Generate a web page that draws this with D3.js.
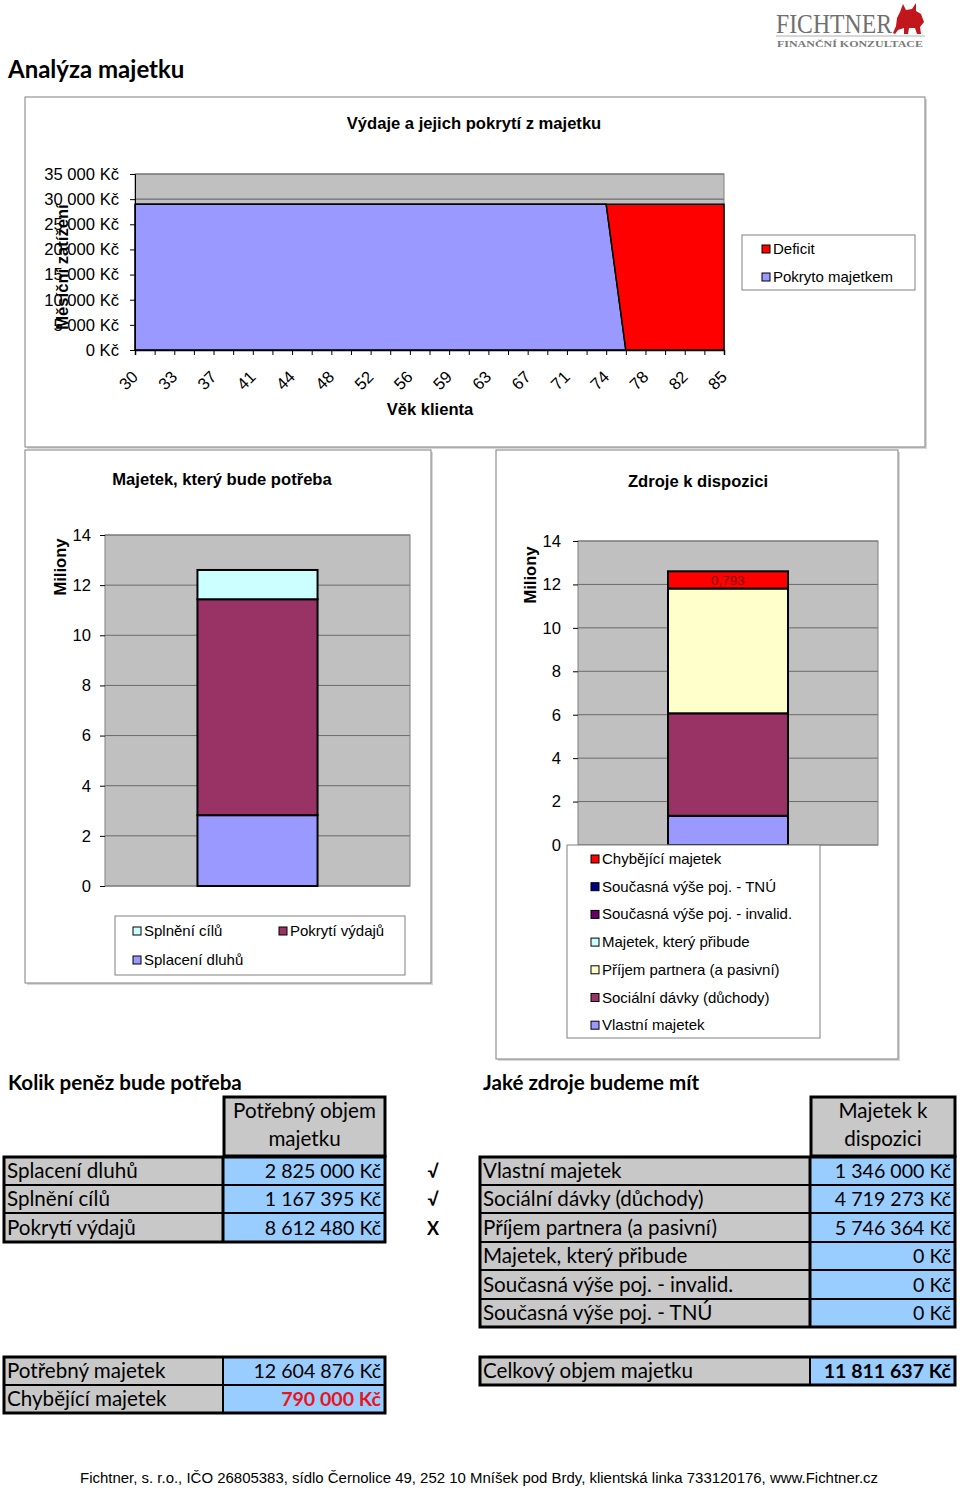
<!DOCTYPE html>
<html><head><meta charset="utf-8">
<script src="https://cdn.jsdelivr.net/npm/d3@7"></script>
<style>
body{margin:0;background:#fff}
svg{display:block}
</style></head>
<body>
<svg id="svg" width="960" height="1489"></svg>
<script>
// ---------------- DATA ----------------
const ageTickLabels = [30,33,37,41,44,48,52,56,59,63,67,71,74,78,82,85];
const coveredByAsset = [29000,29000,29000,29000,29000,29000,29000,29000,29000,29000,29000,29000,29000,29000,29000,29000,29000,29000,29000,29000,29000,29000,29000,29000,29000,0,0,0,0,0,0];
const deficitSeries  = [0,0,0,0,0,0,0,0,0,0,0,0,0,0,0,0,0,0,0,0,0,0,0,0,0,29000,29000,29000,29000,29000,29000];
const topYTicks = [0,5000,10000,15000,20000,25000,30000,35000];

const needKeys   = ['Splacení dluhů','Pokrytí výdajů','Splnění cílů'];   // bottom -> top
const needMil    = [2.825, 8.61248, 1.167395];
const needColors = ['#9999FF','#993366','#CCFFFF'];

const resKeys   = ['Vlastní majetek','Sociální dávky (důchody)','Příjem partnera (a pasivní)','Majetek, který přibude','Současná výše poj. - invalid.','Současná výše poj. - TNÚ','Chybějící majetek'];
const resMil    = [1.346, 4.719273, 5.746364, 0, 0, 0, 0.793];
const resColors = ['#9999FF','#993366','#FFFFCC','#CCFFFF','#660066','#000080','#FF0000'];
const milTicks  = [0,2,4,6,8,10,12,14];

const needTableLabels = ['Splacení dluhů','Splnění cílů','Pokrytí výdajů'];
const needTableValues = [2825000,1167395,8612480];
const needTableMarks  = ['√','√','X'];
const resTableLabels  = ['Vlastní majetek','Sociální dávky (důchody)','Příjem partnera (a pasivní)','Majetek, který přibude','Současná výše poj. - invalid.','Současná výše poj. - TNÚ'];
const resTableValues  = [1346000,4719273,5746364,0,0,0];
const summaryNeedLabels = ['Potřebný majetek','Chybějící majetek'];
const summaryNeedValues = [12604876, 790000];
const summaryTotalLabel = 'Celkový objem majetku';
const summaryTotalValue = 11811637;

// ---------------- HELPERS ----------------
const svg = d3.select('#svg');
svg.append('rect').attr('width',960).attr('height',1489).attr('fill','#fff');
const AR = 'Liberation Sans, Arial, sans-serif';
const CAL = 'Lato, Open Sans, sans-serif';
const FS = 16.6;   // chart titles / axis text
const LFS = 15;    // legend text
const loc = d3.formatLocale({decimal:',', thousands:'\u00a0', grouping:[3], currency:['','\u00a0Kč']});
const kc = loc.format('$,.0f');
const kcSp = v => kc(v).replace(/\u00a0/g,' ');

function box(x0,y0,x1,y1){
  svg.append('rect').attr('x',x0+2).attr('y',y0+2).attr('width',x1-x0).attr('height',y1-y0).attr('fill','#d8d8d8');
  svg.append('rect').attr('x',x0).attr('y',y0).attr('width',x1-x0).attr('height',y1-y0).attr('fill','#fff').attr('stroke','#7f7f7f').attr('stroke-width',1);
}
function text(x,y,s,opt={}){
  return svg.append('text').attr('x',x).attr('y',y).text(s)
    .attr('font-family',opt.ff||AR).attr('font-size',opt.fs||FS).attr('font-weight',opt.fw||'normal')
    .attr('text-anchor',opt.anchor||'start').attr('fill',opt.fill||'#000');
}
function styleAxis(g){
  g.selectAll('text').attr('font-family',AR).attr('font-size',FS).attr('fill','#000');
  g.selectAll('line').attr('stroke','#000');
  g.select('.domain').attr('stroke','#000');
}

// ---------------- HEADER / LOGO ----------------
text(8,78,'Analýza majetku',{ff:CAL,fs:24,fw:'bold'});
const logo = svg.append('g');
logo.append('text').attr('x',776).attr('y',33).text('FICHTNER').attr('font-family','Liberation Serif, serif')
  .attr('font-size',27).attr('fill','#6f6f6f').attr('textLength',116).attr('lengthAdjust','spacingAndGlyphs');
logo.append('line').attr('x1',776).attr('x2',925).attr('y1',36).attr('y2',36).attr('stroke','#b0b0b0').attr('stroke-width',1);
logo.append('text').attr('x',777).attr('y',47).text('FINANČNÍ KONZULTACE').attr('font-family','Liberation Serif, serif')
  .attr('font-size',9).attr('font-weight','bold').attr('fill','#7a7a7a').attr('textLength',146).attr('lengthAdjust','spacingAndGlyphs');
logo.append('path').attr('fill','#c0161c')
  .attr('d','M900,12 L903,4 L906,10 L912,9 L916,3 L916,11 L921,14 L924,22 L920,27 L921,34 L917,34 L915,28 L909,28 L908,34 L904,34 L904,28 L898,30 L895,34 L893,33 L896,26 L897,18 Z');

// ---------------- CHART 1 ----------------
box(25,97,925,447);
text(474,129,'Výdaje a jejich pokrytí z majetku',{fw:'bold',anchor:'middle'});
{
  const x0=135,x1=724,y0=174,y1=350;
  const idx = d3.range(coveredByAsset.length);
  const x = d3.scalePoint().domain(idx).range([x0,x1]);
  const y = d3.scaleLinear().domain([0,35000]).range([y1,y0]);
  svg.append('rect').attr('x',x0).attr('y',y0).attr('width',x1-x0).attr('height',y1-y0).attr('fill','#C0C0C0');
  svg.append('g').selectAll('line').data(topYTicks).join('line')
    .attr('x1',x0).attr('x2',x1).attr('y1',d=>y(d)).attr('y2',d=>y(d)).attr('stroke','#5a5a5a');
  svg.append('rect').attr('x',x0).attr('y',y0).attr('width',x1-x0).attr('height',y1-y0).attr('fill','none').attr('stroke','#808080');
  const rows = idx.map(i=>({i, covered:coveredByAsset[i], deficit:deficitSeries[i]}));
  const stack = d3.stack().keys(['covered','deficit'])(rows);
  const area = d3.area().x(d=>x(d.data.i)).y0(d=>y(d[0])).y1(d=>y(d[1]));
  const cols = {covered:'#9999FF', deficit:'#FF0000'};
  svg.append('g').selectAll('path').data(stack).join('path')
    .attr('d',area).attr('fill',d=>cols[d.key]).attr('stroke','#000').attr('stroke-width',1.5).attr('stroke-linejoin','miter');
  const ya = svg.append('g').attr('transform',`translate(${x0},0)`)
    .call(d3.axisLeft(y).tickValues(topYTicks).tickSize(5).tickPadding(11).tickFormat(kcSp));
  styleAxis(ya);
  const xa = svg.append('g').attr('transform',`translate(0,${y1})`)
    .call(d3.axisBottom(x).tickSize(5).tickFormat(''));
  styleAxis(xa);
  xa.select('.domain').attr('stroke-width',1.5);
  const labIdx = idx.filter(i=>i%2===0);
  svg.append('g').selectAll('text').data(labIdx).join('text')
    .attr('transform',d=>`translate(${x(d)+4},${y1+28}) rotate(-45)`)
    .attr('text-anchor','end').attr('font-family',AR).attr('font-size',FS)
    .text((d,k)=>ageTickLabels[k]);
  svg.append('text').attr('transform','translate(68,267) rotate(-90)').attr('text-anchor','middle')
    .attr('font-family',AR).attr('font-size',FS).attr('font-weight','bold').text('Měsíční zatížení');
  text(430,415,'Věk klienta',{fw:'bold',anchor:'middle'});
  // legend
  svg.append('rect').attr('x',742).attr('y',235).attr('width',173).attr('height',55).attr('fill','#fff').attr('stroke','#808080');
  [['Deficit','#FF0000'],['Pokryto majetkem','#9999FF']].forEach((d,k)=>{
    const cy = 249 + k*28;
    svg.append('rect').attr('x',762).attr('y',cy-4).attr('width',8).attr('height',8).attr('fill',d[1]).attr('stroke','#000');
    text(773,cy+5,d[0],{fs:LFS});
  });
}

// ---------------- BAR CHART helper ----------------
function stackedBar(cfg){
  const {px0,px1,py0,py1,keys,vals,colors} = cfg;
  const y = d3.scaleLinear().domain([0,14]).range([py1,py0]);
  const xb = d3.scaleBand().domain(['a']).range([px0,px1]).paddingInner(cfg.pad).paddingOuter(cfg.pad);
  svg.append('rect').attr('x',px0).attr('y',py0).attr('width',px1-px0).attr('height',py1-py0).attr('fill','#C0C0C0');
  svg.append('g').selectAll('line').data(milTicks).join('line')
    .attr('x1',px0).attr('x2',px1).attr('y1',d=>y(d)).attr('y2',d=>y(d)).attr('stroke','#6a6a6a');
  svg.append('rect').attr('x',px0).attr('y',py0).attr('width',px1-px0).attr('height',py1-py0).attr('fill','none').attr('stroke','#808080');
  const row = {}; keys.forEach((k,i)=>row[k]=vals[i]);
  const st = d3.stack().keys(keys)([row]);
  svg.append('g').selectAll('rect').data(st.filter(s=>s[0][1]-s[0][0]>0)).join('rect')
    .attr('x',xb('a')).attr('width',xb.bandwidth())
    .attr('y',d=>y(d[0][1])).attr('height',d=>y(d[0][0])-y(d[0][1]))
    .attr('fill',d=>colors[keys.indexOf(d.key)]).attr('stroke','#000').attr('stroke-width',2);
  const ya = svg.append('g').attr('transform',`translate(${px0},0)`)
    .call(d3.axisLeft(y).tickValues(milTicks).tickSize(5).tickPadding(cfg.tpad).tickFormat(d3.format('d')));
  styleAxis(ya);
  ya.select('.domain').attr('stroke','none');
  svg.append('text').attr('transform',`translate(${cfg.lx},${cfg.ly}) rotate(-90)`).attr('text-anchor','middle')
    .attr('font-family',AR).attr('font-size',FS).attr('font-weight','bold').text('Miliony');
  return {y, xb, st};
}

// ---------------- CHART 2 ----------------
box(25,450,431,983);
text(222,485,'Majetek, který bude potřeba',{fw:'bold',anchor:'middle'});
stackedBar({px0:105,px1:410,py0:535,py1:886,keys:needKeys,vals:needMil,colors:needColors,pad:0.435,tpad:9,lx:66,ly:567});
svg.append('rect').attr('x',115).attr('y',916).attr('width',290).attr('height',59).attr('fill','#fff').attr('stroke','#808080');
[['Splnění cílů','#CCFFFF',133,931],['Pokrytí výdajů','#993366',279,931],['Splacení dluhů','#9999FF',133,960]].forEach(d=>{
  svg.append('rect').attr('x',d[2]).attr('y',d[3]-4).attr('width',8).attr('height',8).attr('fill',d[1]).attr('stroke','#000');
  text(d[2]+11,d[3]+5,d[0],{fs:LFS});
});

// ---------------- CHART 3 ----------------
box(496,450,898,1059);
text(698,487,'Zdroje k dispozici',{fw:'bold',anchor:'middle'});
{
  const r = stackedBar({px0:578,px1:878,py0:541,py1:845,keys:resKeys,vals:resMil,colors:resColors,pad:0.4286,tpad:12,lx:536,ly:575});
  const top = r.st[r.st.length-1][0];
  svg.append('text').attr('x',r.xb('a')+r.xb.bandwidth()/2).attr('y',(r.y(top[0])+r.y(top[1]))/2+5)
    .attr('text-anchor','middle').attr('font-family',AR).attr('font-size',13.5).attr('fill','#800000')
    .text(d3.format('.3f')(resMil[6]).replace('.',','));
  svg.append('rect').attr('x',567).attr('y',845).attr('width',253).attr('height',193).attr('fill','#fff').attr('stroke','#808080');
  const legOrder = [6,5,4,3,2,1,0];
  legOrder.forEach((i,k)=>{
    const cy = 859 + k*27.7;
    svg.append('rect').attr('x',591).attr('y',cy-4).attr('width',8).attr('height',8).attr('fill',resColors[i]).attr('stroke','#000');
    text(602,cy+5,resKeys[i],{fs:LFS});
  });
}

// ---------------- TABLES ----------------
const TFS = 20.6, VFS = 19.6;
function cell(x0,y0,x1,y1,fill,label,opt={}){
  svg.append('rect').attr('x',x0).attr('y',y0).attr('width',x1-x0).attr('height',y1-y0).attr('fill',fill).attr('stroke','#000').attr('stroke-width',2);
  if(label!==undefined){
    text(opt.anchor==='end'?x1-4:x0+3,(y0+y1)/2+7,label,{ff:CAL,fs:opt.fs||TFS,anchor:opt.anchor||'start',fw:opt.fw,fill:opt.fill});
  }
}
function outer(x0,y0,x1,y1){
  svg.append('rect').attr('x',x0).attr('y',y0).attr('width',x1-x0).attr('height',y1-y0).attr('fill','none').attr('stroke','#000').attr('stroke-width',3);
}
const GRAY = '#C8C8C8', BLUE = '#99CCFF';
text(8,1090,'Kolik peněz bude potřeba',{ff:CAL,fs:20.6,fw:'bold'});
text(483,1090,'Jaké zdroje budeme mít',{ff:CAL,fs:20.6,fw:'bold'});

// table 1
cell(224,1097,385,1156,GRAY);
outer(224,1097,385,1156);
text(304.5,1118,'Potřebný objem',{ff:CAL,fs:TFS,anchor:'middle'});
text(304.5,1146,'majetku',{ff:CAL,fs:TFS,anchor:'middle'});
const r1 = [1157,1185,1213,1242];
needTableLabels.forEach((l,i)=>{
  cell(4,r1[i],223,r1[i+1],GRAY,l);
  cell(223,r1[i],385,r1[i+1],BLUE,kcSp(needTableValues[i]),{anchor:'end',fs:VFS});
  text(433,(r1[i]+r1[i+1])/2+7,needTableMarks[i],{ff:CAL,fs:18,fw:'bold',anchor:'middle'});
});
outer(4,1157,385,1242);
svg.append('line').attr('x1',223).attr('x2',223).attr('y1',1157).attr('y2',1242).attr('stroke','#000').attr('stroke-width',3);

// table 2
cell(811,1097,955,1156,GRAY);
outer(811,1097,955,1156);
text(883,1118,'Majetek k',{ff:CAL,fs:TFS,anchor:'middle'});
text(883,1146,'dispozici',{ff:CAL,fs:TFS,anchor:'middle'});
const r2 = [1157,1185,1213,1242,1270,1299,1327];
resTableLabels.forEach((l,i)=>{
  cell(480,r2[i],810,r2[i+1],GRAY,l);
  cell(810,r2[i],955,r2[i+1],BLUE,kcSp(resTableValues[i]),{anchor:'end',fs:VFS});
});
outer(480,1157,955,1327);
svg.append('line').attr('x1',810).attr('x2',810).attr('y1',1157).attr('y2',1327).attr('stroke','#000').attr('stroke-width',3);

// summary tables
const r3 = [1357,1385,1413];
summaryNeedLabels.forEach((l,i)=>{
  cell(4,r3[i],223,r3[i+1],GRAY,l);
  cell(223,r3[i],385,r3[i+1],BLUE,kcSp(summaryNeedValues[i]),{anchor:'end',fs:VFS,fw:i===1?'bold':'normal',fill:i===1?'#E8141E':'#000'});
});
outer(4,1357,385,1413);
cell(480,1357,810,1385,GRAY,summaryTotalLabel);
cell(810,1357,955,1385,BLUE,kcSp(summaryTotalValue),{anchor:'end',fs:VFS,fw:'bold'});
outer(480,1357,955,1385);

// footer
svg.append('text').attr('x',80).attr('y',1483).text('Fichtner, s. r.o., IČO 26805383, sídlo Černolice 49, 252 10 Mníšek pod Brdy, klientská linka 733120176, www.Fichtner.cz')
  .attr('font-family',AR).attr('font-size',14).attr('textLength',798).attr('lengthAdjust','spacingAndGlyphs');
</script>
</body></html>
